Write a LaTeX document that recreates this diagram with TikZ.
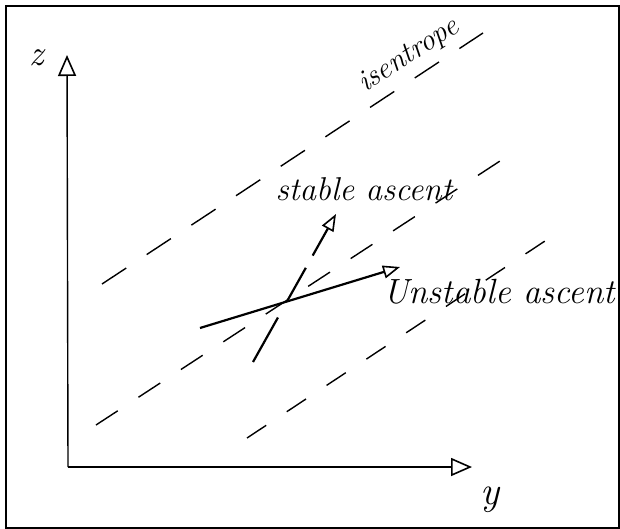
\documentclass[tikz,border=0pt]{standalone}
\usepackage{fontspec}
\usetikzlibrary{arrows.meta}

\tikzset{
  axis/.style={line width=1.4pt,-{Triangle[open,length=21pt,width=18pt,line width=1.6pt]}},
  isen/.style={line width=1.4pt},
  ascent/.style={line width=2.2pt,-{Triangle[open,length=17pt,width=13pt,line width=1.6pt]}},
  hand/.style={font=\fontsize{33}{38}\selectfont\itshape},
}

\begin{document}
\begin{tikzpicture}[x=1pt,y=-1pt]
\useasboundingbox (0,0) rectangle (620,529);
\draw[line width=2.6pt] (6,6) rectangle (619,528);

% axes
\coordinate (O) at (68,467);
\coordinate (ztip) at (67,55);
\coordinate (ytip) at (472,467);
\draw[axis] (O) -- (ztip);
\draw[axis] (O) -- (ytip);
\node[hand,font=\fontsize{36}{40}\selectfont\itshape] (zlab) at (37,58) {z};
\node[hand,font=\fontsize{40}{44}\selectfont\itshape] (ylab) at (490,500) {y};

% isentropes
\coordinate (a1) at (102,284); \coordinate (b1) at (483,33);
\coordinate (a2) at (96,425);  \coordinate (b2) at (500,161);
\coordinate (a3) at (247,438); \coordinate (b3) at (545,241);
\draw[isen,dash pattern=on 29pt off 24.5pt] (a1) -- (b1);
\draw[isen,dash pattern=on 26pt off 24.7pt] (a2) -- (b2);
\draw[isen,dash pattern=on 23pt off 24.7pt] (a3) -- (b3);
\node[hand,font=\fontsize{30}{36}\selectfont\itshape,rotate=33] (isenlab) at (409,56) {isentrope};

% displacements
\coordinate (s0) at (253,362); \coordinate (s1) at (336,214);
\coordinate (u0) at (200,328); \coordinate (u1) at (400,267);
\draw[ascent,dash pattern=on 51pt off 19pt on 38pt off 14pt] (s0) -- (s1);
\draw[ascent] (u0) -- (u1);
\node[hand] (stablab) at (364,189) {stable ascent};
\node[hand,font=\fontsize{35}{40}\selectfont\itshape] (unstlab) at (499,292) {Unstable ascent};
\end{tikzpicture}
\end{document}
